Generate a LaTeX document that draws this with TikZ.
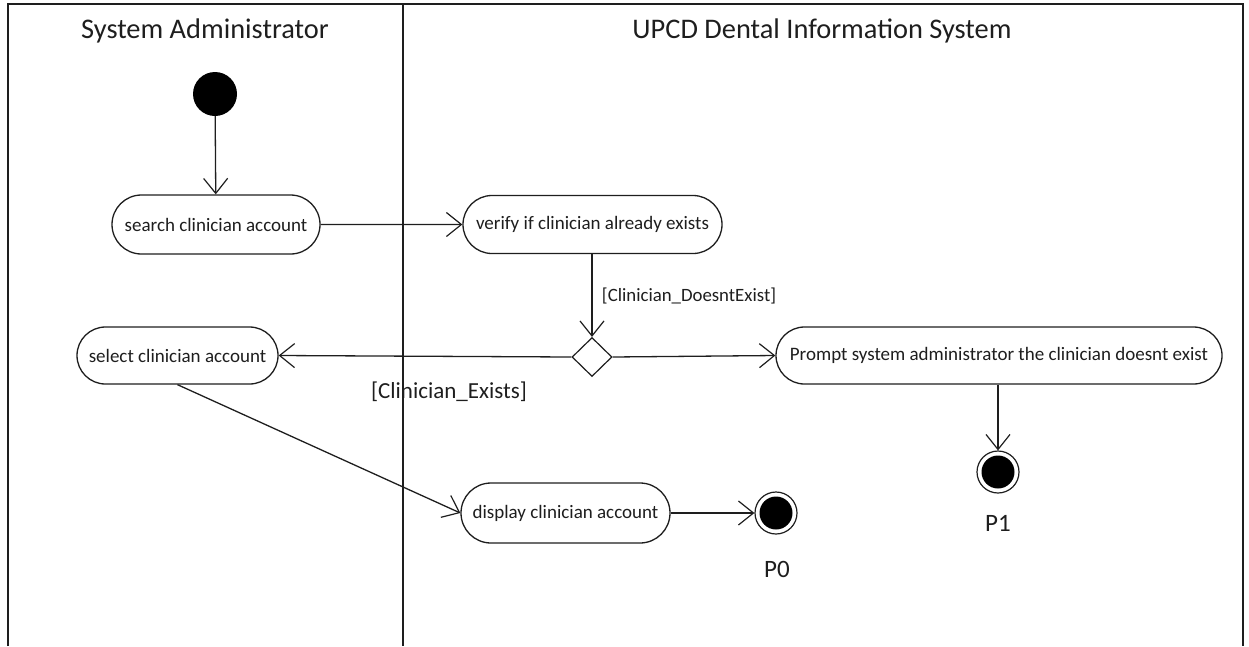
\documentclass[tikz,border=0pt]{standalone}
\usepackage{fontspec}
\setmainfont{Carlito}
\usetikzlibrary{arrows.meta,shapes.misc,shapes.geometric}

\definecolor{ink}{HTML}{1E1E1E}

\tikzset{
  lane/.style={draw=ink, line width=1.6pt},
  laneTitle/.style={font=\fontsize{28.4}{32}\selectfont, text=ink},
  action/.style={rounded rectangle, draw=ink, line width=1.3pt, fill=white,
                 inner sep=0pt, font=\fontsize{19}{22}\selectfont, text=ink},
  decision/.style={diamond, draw=ink, line width=1.2pt, fill=white,
                   minimum width=40, minimum height=39, inner sep=0pt},
  initial/.style={circle, fill=black, minimum size=44, inner sep=0pt},
  final/.style={circle, draw=ink, line width=1.2pt, fill=white,
                minimum size=42, inner sep=0pt,
                path picture={\fill[black] (path picture bounding box.center) circle (16.5pt);}},
  flow/.style={draw=ink, line width=1.3pt,
               -{Straight Barb[length=15pt,width=24pt,line width=1.2pt]}},
  guard/.style={font=\fontsize{18.8}{22}\selectfont, text=ink},
  endLabel/.style={font=\fontsize{25}{30}\selectfont, text=ink}
}

\begin{document}
\begin{tikzpicture}[x=1pt,y=-1pt]
  \useasboundingbox (0,0) rectangle (1249,646);

  % swimlane frame
  \draw[lane] (8,646) -- (8,4) -- (1243,4) -- (1243,646);
  \draw[lane] (403,4) -- (403,646);
  \node[laneTitle] (adminTitle) at (205,31) {System Administrator};
  \node[laneTitle] (sysTitle) at (822,31) {UPCD Dental Information System};

  % activity nodes
  \node[initial] (start) at (215,94) {};
  \node[action, minimum width=208, minimum height=59] (search) at (216,224.5) {search clinician account};
  \node[action, minimum width=259, minimum height=58] (verify) at (592.5,224.5) {verify if clinician already exists};
  \node[decision] (check) at (592,357) {};
  \node[action, minimum width=201, minimum height=57] (select) at (177.5,355.5) {select clinician account};
  \node[action, minimum width=446, minimum height=57] (prompt) at (999,355.5) {Prompt system administrator the clinician doesnt exist};
  \node[action, minimum width=209, minimum height=60] (display) at (565.5,513) {display clinician account};
  \node[final] (endP0) at (776,513) {};
  \node[final] (endP1) at (998,472) {};
  \node[endLabel] (labP0) at (777,569) {P0};
  \node[endLabel] (labP1) at (998,523) {P1};

  % control flows
  \draw[flow] (start) -- (search);
  \draw[flow] (search) -- (verify);
  \draw[flow] (verify.south -| check.north) -- (check.north)
    node[guard, pos=0.5, anchor=west, xshift=6pt] {[Clinician\_DoesntExist]};
  \draw[flow] (check.west) -- (select.east);
  \node[guard, font=\fontsize{23}{27}\selectfont] (guardExists) at (449,392) {[Clinician\_Exists]};
  \draw[flow] (check.east) -- (prompt.west);
  \draw[flow] (prompt.south -| endP1.north) -- (endP1.north);
  \draw[flow] (select.south) -- (display.west);
  \draw[flow] (display.east) -- (endP0.west);
\end{tikzpicture}
\end{document}
